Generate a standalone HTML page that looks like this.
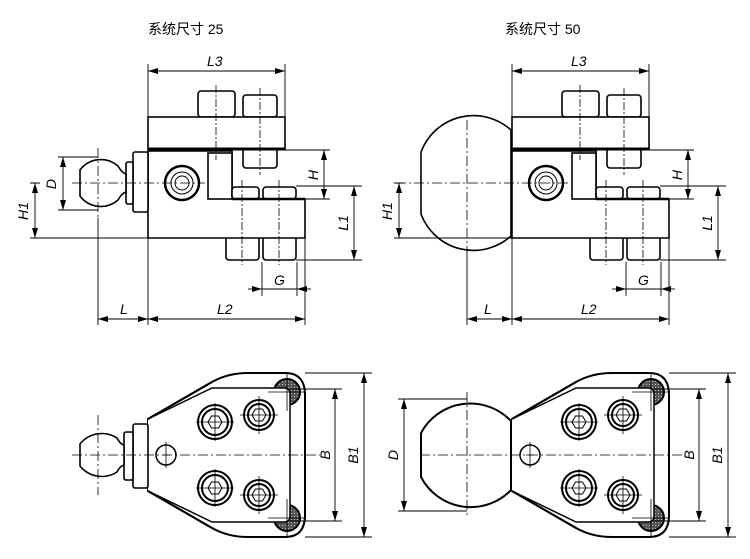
<!DOCTYPE html>
<html><head><meta charset="utf-8"><style>
body{margin:0;background:#fff}
svg{display:block}
text{font-family:"Liberation Sans","Noto Sans CJK SC",sans-serif;font-size:14px;fill:#000}
.i{font-style:italic;font-size:15px}
</style></head><body>
<svg width="750" height="559" viewBox="0 0 750 559" xmlns="http://www.w3.org/2000/svg">
<defs>
<marker id="a" viewBox="0 0 10 6" refX="10" refY="3" markerWidth="10" markerHeight="6" orient="auto-start-reverse" markerUnits="userSpaceOnUse"><path d="M0,0L10,3L0,6z"/></marker>
<pattern id="h" width="3" height="3" patternUnits="userSpaceOnUse"><rect width="3" height="3" fill="#555"/><rect width="1" height="1" fill="#bbb"/></pattern>
<g id="side" fill="#fff" stroke="#000" stroke-width="1.6">
  <rect x="198" y="91" width="37" height="26" rx="3"/>
  <rect x="243" y="95" width="34" height="22" rx="3"/>
  <rect x="243" y="148" width="34" height="20" rx="3"/>
  <rect x="226" y="236" width="33" height="24" rx="3"/>
  <rect x="263" y="236" width="33" height="24" rx="3"/>
  <rect x="148" y="117" width="137" height="32"/>
  <line x1="148" y1="149" x2="285" y2="149" stroke-width="3"/>
  <path d="M148,151 H232 V199 H305 V238 H148 Z"/>
  <rect x="208" y="153" width="24" height="46"/>
  <rect x="232" y="187" width="27" height="12" rx="3"/>
  <rect x="263" y="187" width="33" height="12" rx="3"/>
  <line x1="232" y1="199" x2="305" y2="199" stroke-width="2.5"/>
  <circle cx="182" cy="183" r="17" stroke-width="2.5"/>
  <circle cx="182" cy="183" r="11" stroke-width="1"/>
  <circle cx="182" cy="183" r="7" stroke-width="1"/>
  <g stroke-width="0.8" stroke-dasharray="8,2,2,2" fill="none">
    <line x1="216" y1="85" x2="216" y2="160"/><line x1="260" y1="88" x2="260" y2="175"/>
    <line x1="242" y1="180" x2="242" y2="265"/><line x1="279" y1="180" x2="279" y2="265"/>
  </g>
</g>
<g id="plan" fill="#fff" stroke="#000" stroke-width="2">
  <path d="M148,419 L212,382 Q228,373 248,373 L285,373 Q305,373 305,395 L305,515 Q305,537 285,537 L248,537 Q228,537 212,528 L148,491 Z"/>
  <circle cx="287" cy="392" r="13" fill="url(#h)"/>
  <circle cx="287" cy="518" r="13" fill="url(#h)"/>
  <path d="M148,419 L212,388 H284 Q290,388 290,394 V516 Q290,522 284,522 H212 L148,491" stroke-width="1.5"/>
  <path d="M148,419 L212,382 M148,491 L212,528" fill="none"/>
  <circle cx="215" cy="422" r="17"/><circle cx="215" cy="422" r="13"/>
  <circle cx="215" cy="488" r="17"/><circle cx="215" cy="488" r="13"/>
  <circle cx="259" cy="415" r="15"/><circle cx="259" cy="415" r="11"/>
  <circle cx="259" cy="495" r="15"/><circle cx="259" cy="495" r="11"/>
  <g stroke-width="1"><polygon points="208,422 211.5,416 218.5,416 222,422 218.5,428 211.5,428"/>
  <polygon points="208,488 211.5,482 218.5,482 222,488 218.5,494 211.5,494"/>
  <polygon points="252,415 255.5,409 262.5,409 266,415 262.5,421 255.5,421"/>
  <polygon points="252,495 255.5,489 262.5,489 266,495 262.5,501 255.5,501"/></g>
  <circle cx="166" cy="455" r="10" stroke-width="1.5"/>
  <g stroke-width="0.8" fill="none">
    <path d="M196,422H234M215,403V441M196,488H234M215,469V507M240,415H278M259,396V434M240,495H278M259,476V514M268,392H306M287,373V411M268,518H306M287,499V537M162,455h8M166,442V468"/>
  </g>
</g>
</defs>

<text x="148" y="34">系统尺寸 25</text>
<text x="505" y="34">系统尺寸 50</text>

<!-- LEFT TOP -->
<use href="#side"/>
<g fill="#fff" stroke="#000" stroke-width="1.6">
  <rect x="133" y="152" width="15" height="60" rx="2"/>
  <rect x="126" y="162" width="7" height="42" rx="2"/>
  <path d="M118,166 A26,26 0 0 0 80,170 V196 A26,26 0 0 0 118,200 Q122,193 126,192 V174 Q122,173 118,166 Z"/>
</g>
<!-- RIGHT TOP -->
<g fill="#fff" stroke="#000" stroke-width="1.6">
  <path d="M511,130 A56,56 0 0 0 421,152 V214 A56,56 0 0 0 511,236 Z"/>
</g>
<use href="#side" x="364"/>

<!-- LEFT PLAN -->
<use href="#plan"/>
<g fill="#fff" stroke="#000" stroke-width="1.6">
  <rect x="133" y="424" width="15" height="64" rx="2"/>
  <rect x="124" y="432" width="9" height="48" rx="2"/>
  <path d="M117,438 A28,28 0 0 0 80,444 V466 A28,28 0 0 0 117,472 Q120,466 124,465 V445 Q120,444 117,438 Z"/>
</g>
<!-- RIGHT PLAN -->
<path d="M511,421 A56,56 0 0 0 421,433 V477 A56,56 0 0 0 511,490 Z" fill="#fff" stroke="#000" stroke-width="2"/>
<use href="#plan" x="364"/>

<!-- center lines -->
<g stroke="#000" stroke-width="0.8" stroke-dasharray="10,3,2,3" fill="none">
  <line x1="72" y1="183" x2="205" y2="183"/><line x1="98" y1="148" x2="98" y2="218"/>
  <line x1="396" y1="183" x2="570" y2="183"/><line x1="467" y1="120" x2="467" y2="248"/>
  <line x1="72" y1="455" x2="320" y2="455"/><line x1="98" y1="415" x2="98" y2="495"/>
  <line x1="420" y1="455" x2="685" y2="455"/><line x1="467" y1="392" x2="467" y2="518"/>
</g>

<!-- dimensions -->
<g stroke="#000" stroke-width="0.9" fill="none">
  <path d="M148,64V325M285,64V117M98,218V325M305,238V325M262,262V296M297,262V296M30,238H148M58,157H98M58,210H98M30,183H40M285,150H330M305,199H330M296,186H362M296,260H362"/>
  <line x1="148" y1="71" x2="285" y2="71" marker-start="url(#a)" marker-end="url(#a)"/>
  <line x1="63" y1="157" x2="63" y2="210" marker-start="url(#a)" marker-end="url(#a)"/>
  <line x1="35" y1="183" x2="35" y2="238" marker-start="url(#a)" marker-end="url(#a)"/>
  <line x1="324" y1="150" x2="324" y2="199" marker-start="url(#a)" marker-end="url(#a)"/>
  <line x1="354" y1="186" x2="354" y2="260" marker-start="url(#a)" marker-end="url(#a)"/>
  <line x1="248" y1="289" x2="262" y2="289" marker-end="url(#a)"/><line x1="311" y1="289" x2="297" y2="289" marker-end="url(#a)"/><line x1="262" y1="289" x2="297" y2="289"/>
  <line x1="98" y1="319" x2="148" y2="319" marker-start="url(#a)" marker-end="url(#a)"/>
  <line x1="148" y1="319" x2="305" y2="319" marker-start="url(#a)" marker-end="url(#a)"/>
  <path d="M512,64V325M649,64V117M467,248V325M669,238V325M626,262V296M661,262V296M394,238H512M394,183H404M649,150H694M669,199H694M660,186H726M660,260H726"/>
  <line x1="512" y1="71" x2="649" y2="71" marker-start="url(#a)" marker-end="url(#a)"/>
  <line x1="399" y1="183" x2="399" y2="238" marker-start="url(#a)" marker-end="url(#a)"/>
  <line x1="688" y1="150" x2="688" y2="199" marker-start="url(#a)" marker-end="url(#a)"/>
  <line x1="718" y1="186" x2="718" y2="260" marker-start="url(#a)" marker-end="url(#a)"/>
  <line x1="612" y1="289" x2="626" y2="289" marker-end="url(#a)"/><line x1="675" y1="289" x2="661" y2="289" marker-end="url(#a)"/><line x1="626" y1="289" x2="661" y2="289"/>
  <line x1="467" y1="319" x2="512" y2="319" marker-start="url(#a)" marker-end="url(#a)"/>
  <line x1="512" y1="319" x2="669" y2="319" marker-start="url(#a)" marker-end="url(#a)"/>
  <path d="M290,389H342M305,373H372M290,521H342M305,537H372M654,389H706M669,373H736M654,521H706M669,537H736M398,399H467M398,511H467"/>
  <line x1="335" y1="389" x2="335" y2="521" marker-start="url(#a)" marker-end="url(#a)"/>
  <line x1="364" y1="373" x2="364" y2="537" marker-start="url(#a)" marker-end="url(#a)"/>
  <line x1="699" y1="389" x2="699" y2="521" marker-start="url(#a)" marker-end="url(#a)"/>
  <line x1="728" y1="373" x2="728" y2="537" marker-start="url(#a)" marker-end="url(#a)"/>
  <line x1="404" y1="399" x2="404" y2="511" marker-start="url(#a)" marker-end="url(#a)"/>
</g>

<g class="i">
  <text x="207" y="66">L3</text><text x="571" y="66">L3</text>
  <text x="120" y="314">L</text><text x="217" y="314">L2</text>
  <text x="484" y="314">L</text><text x="581" y="314">L2</text>
  <text x="274" y="285">G</text><text x="638" y="285">G</text>
  <text transform="translate(56,184) rotate(-90)" text-anchor="middle">D</text>
  <text transform="translate(28,211) rotate(-90)" text-anchor="middle">H1</text>
  <text transform="translate(392,211) rotate(-90)" text-anchor="middle">H1</text>
  <text transform="translate(318,175) rotate(-90)" text-anchor="middle">H</text>
  <text transform="translate(682,175) rotate(-90)" text-anchor="middle">H</text>
  <text transform="translate(348,223) rotate(-90)" text-anchor="middle">L1</text>
  <text transform="translate(712,223) rotate(-90)" text-anchor="middle">L1</text>
  <text transform="translate(330,455) rotate(-90)" text-anchor="middle">B</text>
  <text transform="translate(358,455) rotate(-90)" text-anchor="middle">B1</text>
  <text transform="translate(694,455) rotate(-90)" text-anchor="middle">B</text>
  <text transform="translate(722,455) rotate(-90)" text-anchor="middle">B1</text>
  <text transform="translate(398,455) rotate(-90)" text-anchor="middle">D</text>
</g>
</svg>
</body></html>
